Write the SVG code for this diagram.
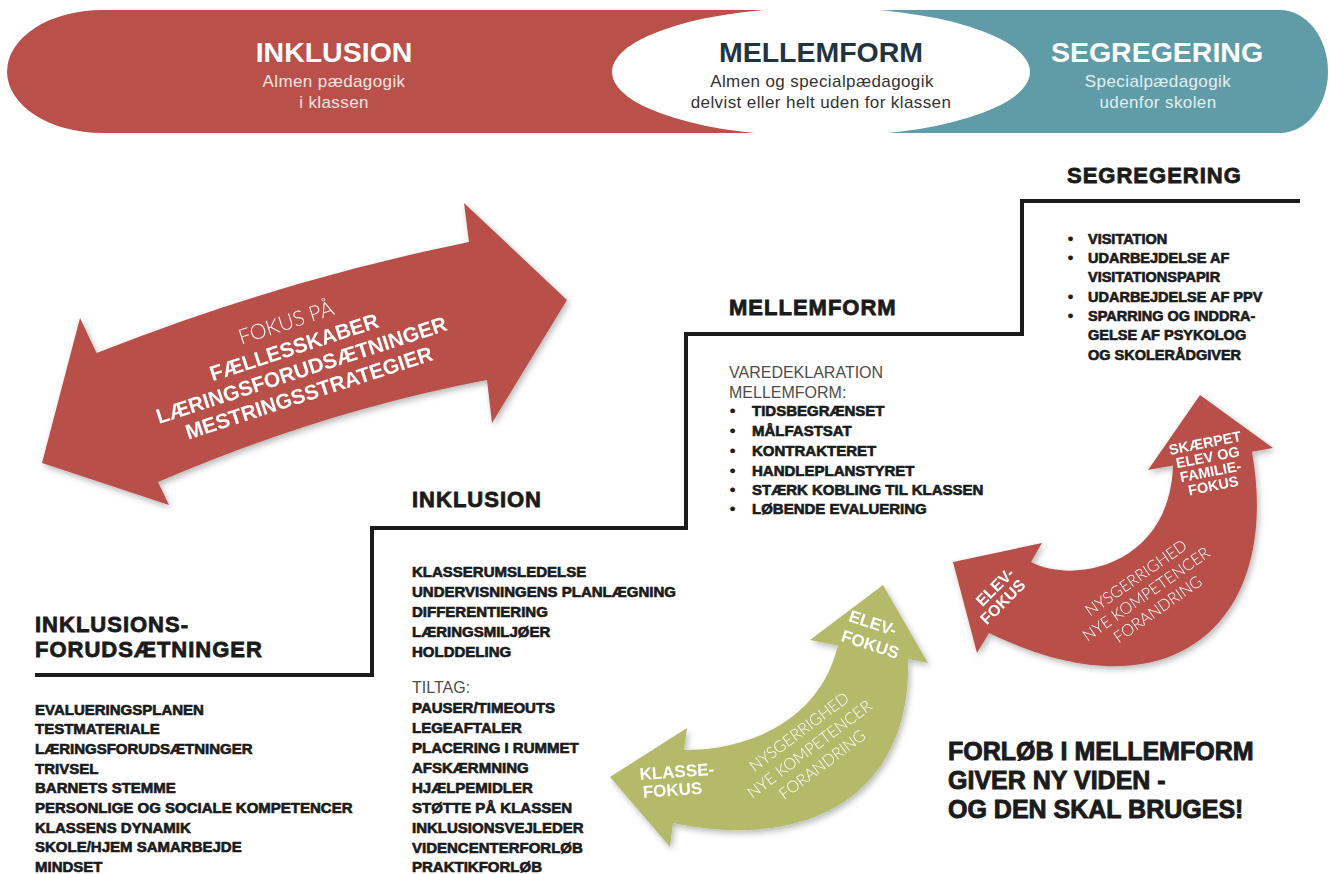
<svg xmlns="http://www.w3.org/2000/svg" width="1334" height="874" viewBox="0 0 1334 874">
<defs>
<filter id="sh" x="-15%" y="-15%" width="140%" height="140%"><feDropShadow dx="2" dy="3" stdDeviation="3" flood-color="#000" flood-opacity="0.28"/></filter>
</defs>
<style>
.hv{font-family:"Liberation Sans",Arial,sans-serif;font-weight:bold;fill:#1b1b1b;stroke:#1b1b1b;stroke-width:0.65}
.h{font-size:22px;letter-spacing:1px;stroke-width:0.8}
.li{font-size:15px}
.big{font-size:25px;stroke-width:0.9}
.lt{font-family:"Liberation Sans",Arial,sans-serif;font-size:16px;fill:#4d4d4d}
.bt{font-family:"Liberation Sans",Arial,sans-serif;font-weight:bold;font-size:28.5px;text-anchor:middle}
.bs{font-family:"Liberation Sans",Arial,sans-serif;font-size:17px;letter-spacing:0.4px;text-anchor:middle}
.wb{font-family:"Liberation Sans",Arial,sans-serif;font-weight:bold;fill:#fff}
.wl{font-family:"Lato","Liberation Sans",Arial,sans-serif;font-weight:300;fill:#fff}
.red{fill:#b9504a}
.grn{fill:#b5ba6b}
</style>

<g id="banner">
  <g id="banner-inklusion">
    <path class="red" d="M102,10 L822,10 L822,133 L102,133 A95 61.5 0 0 1 102,10 Z"/>
    <text class="bt" x="334" y="62" fill="#fff">INKLUSION</text>
    <text class="bs" x="334" y="87" fill="#f6e4e1">Almen pædagogik</text>
    <text class="bs" x="334" y="108" fill="#f6e4e1">i klassen</text>
  </g>
  <g id="banner-segregering">
    <path fill="#5f9ca8" d="M822,10 L1280,10 A48 61.5 0 0 1 1280,133 L822,133 Z"/>
    <text class="bt" x="1157" y="62" fill="#fff">SEGREGERING</text>
    <text class="bs" x="1158" y="87" fill="#e3eff1">Specialpædagogik</text>
    <text class="bs" x="1158" y="108" fill="#e3eff1">udenfor skolen</text>
  </g>
  <g id="banner-mellemform">
    <ellipse cx="821" cy="72" rx="209" ry="64.5" fill="#fff"/>
    <text class="bt" x="821" y="62" fill="#233340">MELLEMFORM</text>
    <text class="bs" x="822" y="87" fill="#333">Almen og specialpædagogik</text>
    <text class="bs" x="821" y="108" fill="#333">delvist eller helt uden for klassen</text>
  </g>
</g>

<g id="connectors">
  <polyline points="35,675 372,675 372,528 686,528 686,334 1022,334 1022,201 1300,201" fill="none" stroke="#1b1b1b" stroke-width="4" stroke-linejoin="miter"/>
</g>

<g id="focus-arrow" filter="url(#sh)">
  <path class="red" d="M42,463 L80,318 L96.6,353 Q281,280 469,242 L464,203 L567,300 L492,423 L487,380 Q323,411 158,482 L169,505 Z"/>
  <g transform="translate(294,347) rotate(-18)" text-anchor="middle">
    <text class="wl" x="0" y="-18.5" font-size="21" fill="#f2d4cf">FOKUS PÅ</text>
    <text class="wb" x="0" y="7.5" font-size="21">FÆLLESSKABER</text>
    <text class="wb" x="0" y="31.5" font-size="21">LÆRINGSFORUDSÆTNINGER</text>
    <text class="wb" x="0" y="55.5" font-size="21">MESTRINGSSTRATEGIER</text>
  </g>
</g>

<g id="step-forudsaetninger">
  <text class="hv h" x="35" y="632">INKLUSIONS-</text>
  <text class="hv h" x="35" y="657">FORUDSÆTNINGER</text>
  <g class="hv li">
    <text x="35" y="714.5">EVALUERINGSPLANEN</text>
    <text x="35" y="734.2">TESTMATERIALE</text>
    <text x="35" y="753.9">LÆRINGSFORUDSÆTNINGER</text>
    <text x="35" y="773.6">TRIVSEL</text>
    <text x="35" y="793.3">BARNETS STEMME</text>
    <text x="35" y="813">PERSONLIGE OG SOCIALE KOMPETENCER</text>
    <text x="35" y="832.7">KLASSENS DYNAMIK</text>
    <text x="35" y="852.4">SKOLE/HJEM SAMARBEJDE</text>
    <text x="35" y="872.1">MINDSET</text>
  </g>
</g>

<g id="step-inklusion">
  <text class="hv h" x="412" y="507">INKLUSION</text>
  <g class="hv li">
    <text x="412" y="577">KLASSERUMSLEDELSE</text>
    <text x="412" y="597">UNDERVISNINGENS PLANLÆGNING</text>
    <text x="412" y="617">DIFFERENTIERING</text>
    <text x="412" y="637">LÆRINGSMILJØER</text>
    <text x="412" y="657">HOLDDELING</text>
  </g>
  <text class="lt" x="412" y="693">TILTAG:</text>
  <g class="hv li">
    <text x="412" y="713">PAUSER/TIMEOUTS</text>
    <text x="412" y="733">LEGEAFTALER</text>
    <text x="412" y="753">PLACERING I RUMMET</text>
    <text x="412" y="773">AFSKÆRMNING</text>
    <text x="412" y="793">HJÆLPEMIDLER</text>
    <text x="412" y="813">STØTTE PÅ KLASSEN</text>
    <text x="412" y="833">INKLUSIONSVEJLEDER</text>
    <text x="412" y="853">VIDENCENTERFORLØB</text>
    <text x="412" y="872">PRAKTIKFORLØB</text>
  </g>
</g>

<g id="step-mellemform">
  <text class="hv h" x="729" y="315">MELLEMFORM</text>
  <text class="lt" x="729" y="378">VAREDEKLARATION</text>
  <text class="lt" x="729" y="398">MELLEMFORM:</text>
  <g class="hv li">
    <text x="730" y="416">•</text><text x="752" y="416">TIDSBEGRÆNSET</text>
    <text x="730" y="436">•</text><text x="752" y="436">MÅLFASTSAT</text>
    <text x="730" y="456">•</text><text x="752" y="456">KONTRAKTERET</text>
    <text x="730" y="476">•</text><text x="752" y="476">HANDLEPLANSTYRET</text>
    <text x="730" y="495">•</text><text x="752" y="495">STÆRK KOBLING TIL KLASSEN</text>
    <text x="730" y="514">•</text><text x="752" y="514">LØBENDE EVALUERING</text>
  </g>
</g>

<g id="step-segregering">
  <text class="hv h" x="1067" y="183">SEGREGERING</text>
  <g class="hv" font-size="14.5">
    <text x="1068" y="244">•</text><text x="1088" y="244">VISITATION</text>
    <text x="1068" y="263">•</text><text x="1088" y="263">UDARBEJDELSE AF</text>
    <text x="1088" y="282">VISITATIONSPAPIR</text>
    <text x="1068" y="302">•</text><text x="1088" y="302">UDARBEJDELSE AF PPV</text>
    <text x="1068" y="321">•</text><text x="1088" y="321">SPARRING OG INDDRA-</text>
    <text x="1088" y="340">GELSE AF PSYKOLOG</text>
    <text x="1088" y="360">OG SKOLERÅDGIVER</text>
  </g>
</g>

<g id="green-arrow" filter="url(#sh)">
  <path class="grn" d="M610,777 L687,728 L684,750 C750,750 820,720 838,645.5 L810,640 L883,585 L928,663 L908,659 C912,792 812,852 673,823 L670,847 Z"/>
  <g transform="translate(873,623) rotate(18)" text-anchor="middle">
    <text class="wb" x="0" y="6" font-size="17">ELEV-</text>
    <text class="wb" x="4" y="27" font-size="17">FOKUS</text>
  </g>
  <g transform="translate(640,780) rotate(-4)">
    <text class="wb" x="0" y="0" font-size="17">KLASSE-</text>
    <text class="wb" x="2" y="18" font-size="17">FOKUS</text>
  </g>
  <g transform="translate(799,732) rotate(-37)" text-anchor="middle">
    <text class="wl" x="0" y="5.5" font-size="16">NYSGERRIGHED</text>
    <text class="wl" x="-2" y="25.5" font-size="16">NYE KOMPETENCER</text>
    <text class="wl" x="-1" y="45.5" font-size="16">FORANDRING</text>
  </g>
</g>

<g id="red-arrow" filter="url(#sh)">
  <path class="red" d="M953,562 L1042,543 L1031,562 C1075,585 1170,565 1173,465.6 L1148,470 L1200,395 L1273,448 L1252,451.7 C1282,622 1172,722 989,633 L977,653 Z"/>
  <g transform="translate(1205,443) rotate(-11)" text-anchor="middle">
    <text class="wb" x="0" y="5" font-size="14.5">SKÆRPET</text>
    <text class="wb" x="0" y="19.5" font-size="14.5">ELEV OG</text>
    <text class="wb" x="0" y="34" font-size="14.5">FAMILIE-</text>
    <text class="wb" x="0" y="48.5" font-size="14.5">FOKUS</text>
  </g>
  <g transform="translate(995,587) rotate(-45)" text-anchor="middle">
    <text class="wb" x="0" y="5.5" font-size="16">ELEV-</text>
    <text class="wb" x="-5" y="21.5" font-size="16">FOKUS</text>
  </g>
  <g transform="translate(1136,578) rotate(-35)" text-anchor="middle">
    <text class="wl" x="0" y="5.5" font-size="16" fill="#f2d4cf">NYSGERRIGHED</text>
    <text class="wl" x="-1" y="24.5" font-size="16" fill="#f2d4cf">NYE KOMPETENCER</text>
    <text class="wl" x="0" y="43.5" font-size="16" fill="#f2d4cf">FORANDRING</text>
  </g>
</g>

<g id="conclusion">
  <text class="hv big" x="948" y="760">FORLØB I MELLEMFORM</text>
  <text class="hv big" x="948" y="789">GIVER NY VIDEN -</text>
  <text class="hv big" x="948" y="818">OG DEN SKAL BRUGES!</text>
</g>
</svg>
